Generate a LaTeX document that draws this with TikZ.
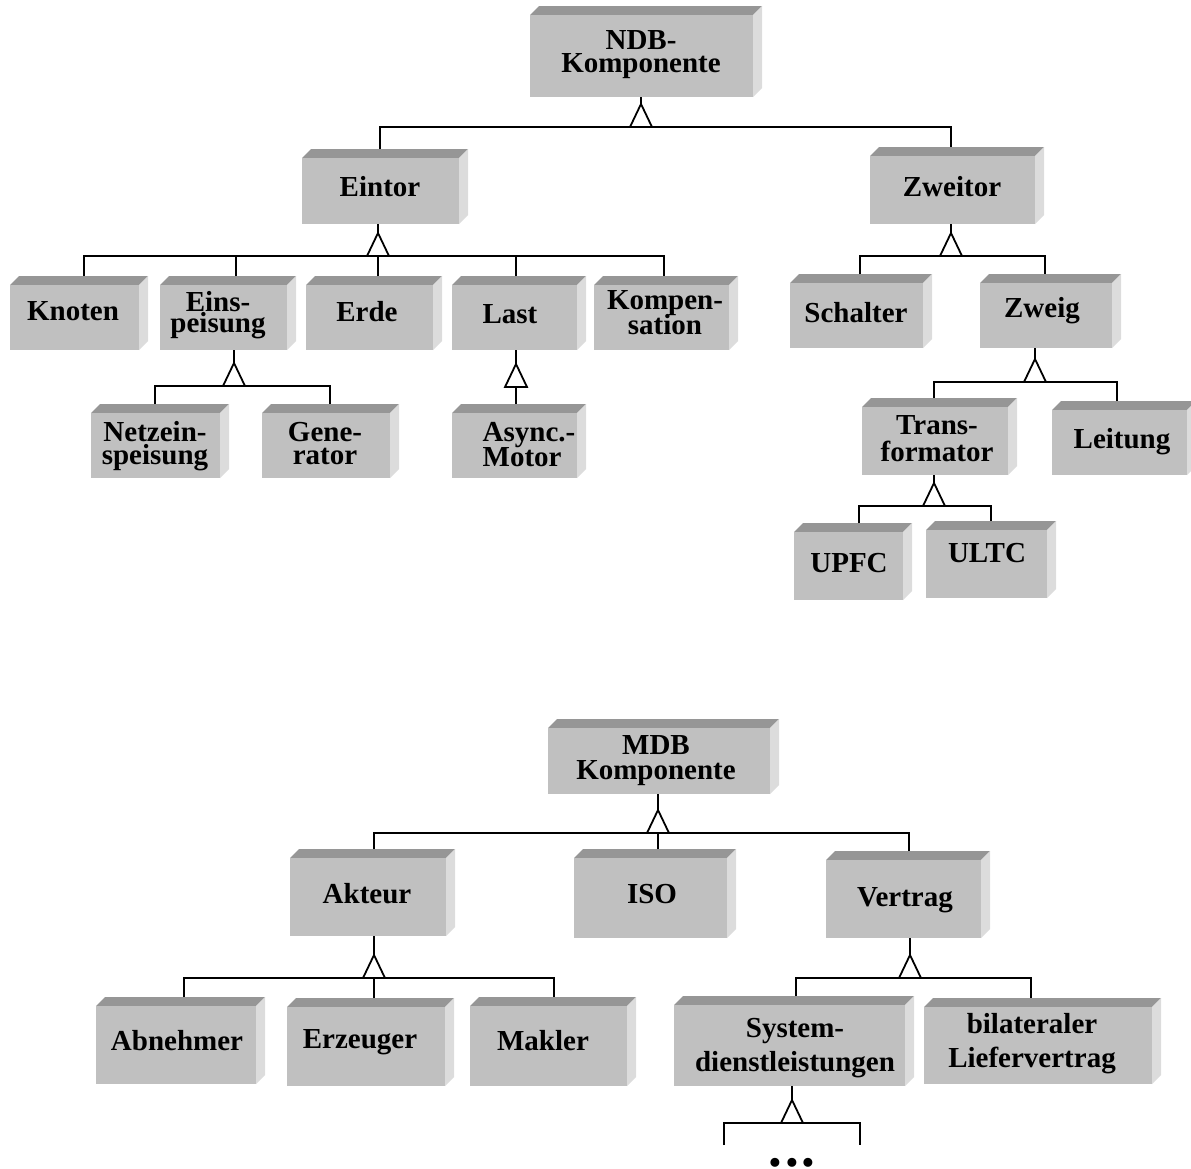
\documentclass[tikz,border=0pt]{standalone}
\usepackage{fontspec}
\setmainfont{Liberation Serif}
\setlength{\lineskiplimit}{-100pt}
\usetikzlibrary{calc}

\definecolor{boxfront}{HTML}{C0C0C0}
\definecolor{boxtop}{HTML}{969696}
\definecolor{boxside}{HTML}{DCDCDC}

\tikzset{
  facefront/.style={rectangle, fill=boxfront, draw=none, inner sep=0pt, outer sep=0pt},
  facetop/.style={fill=boxtop},
  faceside/.style={fill=boxside},
  lbl/.style={font=\fontsize{29}{24}\selectfont\bfseries, align=center, inner sep=0pt},
  lsk/.style={font=\fontsize{29}{#1}\selectfont\bfseries},
  link/.style={line width=1.8pt},
  tri/.style={line width=1.8pt, fill=white, line join=miter},
}

% 3-D box: name, front face corners (x1,y1)-(x2,y2), x of the incoming connector
\newcommand\cbox[6]{%
  \fill[facetop] (#2,#3) -- (#2+9,#3-9) -- (#4+9,#3-9) -- (#4,#3) -- cycle;
  \fill[faceside] (#4,#3) -- (#4+9,#3-9) -- (#4+9,#5-9) -- (#4,#5) -- cycle;
  \node[facefront, anchor=north west, minimum width=#4-#2, minimum height=#5-#3] (#1) at (#2,#3) {};
  \coordinate (#1-in) at (#6,#3-9);
}

% generalisation: parent node, coordinate at the middle of the triangle's base
\newcommand\gen[2]{%
  \draw[link] (#1.south -| #2) -- ([yshift=23pt]#2);
  \draw[tri] ([xshift=-11pt]#2) -- ([yshift=23pt]#2) -- ([xshift=11pt]#2) -- cycle;
}

\begin{document}
\begin{tikzpicture}[x=1pt, y=-1pt]
\useasboundingbox (0,0) rectangle (1191,1168);

% ---------------- NDB hierarchy ----------------
\cbox{ndb}{530}{15}{753}{97}{641}
\cbox{eintor}{302}{158}{459}{224}{380}
\cbox{zweitor}{870}{156}{1035}{224}{951}
\cbox{knoten}{10}{285}{139}{350}{84}
\cbox{einsp}{160}{285}{287}{350}{236}
\cbox{erde}{306}{285}{433}{350}{378}
\cbox{last}{452}{285}{577}{350}{516}
\cbox{komp}{594}{285}{729}{350}{664}
\cbox{netz}{91}{413}{220}{478}{155}
\cbox{gener}{262}{413}{390}{478}{330}
\cbox{async}{452}{413}{577}{478}{516}
\cbox{schalter}{790}{283}{923}{348}{860}
\cbox{zweig}{980}{283}{1112}{348}{1045}
\cbox{trafo}{862}{407}{1008}{475}{934}
\cbox{leitung}{1052}{410}{1187}{475}{1117}
\cbox{upfc}{794}{532}{903}{600}{859}
\cbox{ultc}{926}{530}{1047}{598}{991}

\node[lbl, lsk=23] (ndb-l) at (641,55) {NDB-\\Komponente};
\node[lbl, anchor=base] (eintor-l) at (380,196) {Eintor};
\node[lbl, anchor=base] (zweitor-l) at (952,196) {Zweitor};
\node[lbl, anchor=base] (knoten-l) at (73,320) {Knoten};
\node[lbl, lsk=21] (einsp-l) at (218,315.5) {Eins-\\peisung};
\node[lbl, anchor=base] (erde-l) at (367,321) {Erde};
\node[lbl, anchor=base] (last-l) at (510,323) {Last};
\node[lbl, lsk=25] (komp-l) at (665,312.5) {Kompen-\\sation};
\node[lbl, lsk=23] (netz-l) at (155,446.5) {Netzein-\\speisung};
\node[lbl, lsk=23] (gener-l) at (325,444) {Gene-\\rator};
\node[lbl, lsk=25, align=left] (async-l) at (529,445) {Async.-\\Motor};
\node[lbl, anchor=base] (schalter-l) at (856,322) {Schalter};
\node[lbl, anchor=base] (zweig-l) at (1042,317) {Zweig};
\node[lbl, lsk=27] (trafo-l) at (937,439) {Trans-\\formator};
\node[lbl, anchor=base] (leitung-l) at (1122,448) {Leitung};
\node[lbl, anchor=base] (upfc-l) at (849,572) {UPFC};
\node[lbl, anchor=base] (ultc-l) at (987,562) {ULTC};

\coordinate (g1) at (641,127);
\coordinate (g2) at (378,256);
\coordinate (g3) at (951,256);
\coordinate (g4) at (234,386);
\coordinate (g5) at (516,387);
\coordinate (g6) at (1035,382);
\coordinate (g7) at (934,506);

\draw[link] (eintor-in) |- (g1) -| (zweitor-in);
\draw[link] (knoten-in) |- (g2) -| (komp-in);
\draw[link] (einsp-in) -- (einsp-in |- g2);
\draw[link] (erde-in) -- (erde-in |- g2);
\draw[link] (last-in) -- (last-in |- g2);
\draw[link] (schalter-in) |- (g3) -| (zweig-in);
\draw[link] (netz-in) |- (g4) -| (gener-in);
\draw[link] (g5) -- (async-in);
\draw[link] (trafo-in) |- (g6) -| (leitung-in);
\draw[link] (upfc-in) |- (g7) -| (ultc-in);

\gen{ndb}{g1}
\gen{eintor}{g2}
\gen{zweitor}{g3}
\gen{einsp}{g4}
\gen{last}{g5}
\gen{zweig}{g6}
\gen{trafo}{g7}

% ---------------- MDB hierarchy ----------------
\cbox{mdb}{548}{728}{770}{794}{656}
\cbox{akteur}{290}{858}{446}{936}{374}
\cbox{iso}{574}{858}{727}{938}{658}
\cbox{vertrag}{826}{860}{981}{938}{909}
\cbox{abnehmer}{96}{1006}{256}{1084}{184}
\cbox{erzeuger}{287}{1007}{445}{1086}{374}
\cbox{makler}{470}{1006}{627}{1086}{554}
\cbox{sdl}{674}{1005}{905}{1086}{796}
\cbox{bilat}{924}{1007}{1152}{1084}{1031}

\node[lbl, lsk=25] (mdb-l) at (656,761) {MDB\\Komponente};
\node[lbl, anchor=base] (akteur-l) at (367,903) {Akteur};
\node[lbl, anchor=base] (iso-l) at (652,903) {ISO};
\node[lbl, anchor=base] (vertrag-l) at (905,906) {Vertrag};
\node[lbl, anchor=base] (abnehmer-l) at (177,1050) {Abnehmer};
\node[lbl, anchor=base] (erzeuger-l) at (360,1048) {Erzeuger};
\node[lbl, anchor=base] (makler-l) at (543,1050) {Makler};
\node[lbl, lsk=34] (sdl-l) at (795,1048) {System-\\dienstleistungen};
\node[lbl, lsk=34] (bilat-l) at (1032,1044) {bilateraler\\Liefervertrag};

\coordinate (g8) at (658,833);
\coordinate (g9) at (374,978);
\coordinate (g10) at (910,978);
\coordinate (g11) at (792,1123);
\coordinate (more-a) at (724,1145);
\coordinate (more-b) at (860,1145);

\draw[link] (akteur-in) |- (g8) -| (vertrag-in);
\draw[link] (iso-in) -- (iso-in |- g8);
\draw[link] (abnehmer-in) |- (g9) -| (makler-in);
\draw[link] (erzeuger-in) -- (erzeuger-in |- g9);
\draw[link] (sdl-in) |- (g10) -| (bilat-in);
\draw[link] (more-a) |- (g11) -| (more-b);

\gen{mdb}{g8}
\gen{akteur}{g9}
\gen{vertrag}{g10}
\gen{sdl}{g11}

\node[inner sep=0pt, anchor=base, font=\fontsize{55}{55}\selectfont\bfseries] (more) at (792,1166) {.\hspace{3pt}.\hspace{3pt}.};
\end{tikzpicture}
\end{document}
